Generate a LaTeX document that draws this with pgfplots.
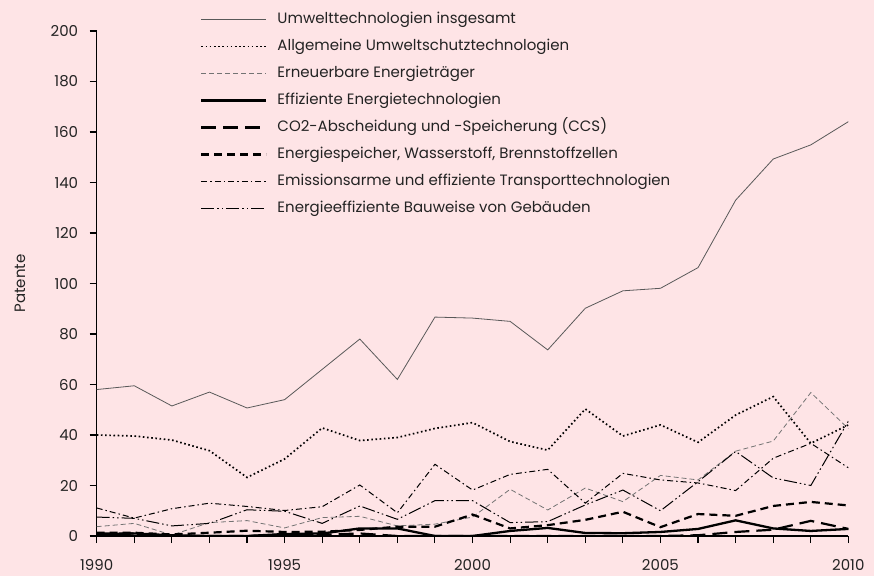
\documentclass[border=0pt]{standalone}
\usepackage{pgfplots}
\pgfplotsset{compat=1.18}
\usepackage{fontspec}
\setmainfont{Poppins}
\definecolor{bg}{RGB}{254,228,230}
\definecolor{txt}{RGB}{35,35,35}
\newcommand\chartfont{\fontsize{15}{18}\selectfont}
\pgfplotsset{
  sU/.style={line width=0.8pt, color=black!65},
  sA/.style={line width=1.7pt, color=black, dash pattern=on 1.6pt off 2.6pt},
  sE/.style={line width=0.8pt, color=black!55, dash pattern=on 5pt off 3pt},
  sF/.style={line width=2.3pt, color=black},
  sC/.style={line width=2.2pt, color=black, dash pattern=on 15pt off 7pt},
  sS/.style={line width=2.2pt, color=black, dash pattern=on 8pt off 5pt},
  sT/.style={line width=1pt, color=black, dash pattern=on 6pt off 3pt on 1.5pt off 3pt},
  sG/.style={line width=1pt, color=black, dash pattern=on 13pt off 3pt on 1.5pt off 3pt on 1.5pt off 3pt},
}
\begin{document}
\begin{tikzpicture}
\path[use as bounding box, fill=bg] (-96.7pt,-40pt) rectangle (777.3pt,536pt);
\begin{axis}[
  at={(0pt,0pt)}, anchor=south west,
  scale only axis, width=751.7pt, height=505pt,
  xmin=1990, xmax=2010, ymin=0, ymax=200,
  axis lines*=left,
  axis line style={line width=1.2pt, black, -},
  xtick={1990,...,2010},
  xticklabels={1990,,,,,1995,,,,,2000,,,,,2005,,,,,2010},
  ytick={0,20,...,200},
  tick align=outside,
  major tick length=7pt,
  tick style={line width=1.1pt, draw=black},
  /pgf/number format/assume math mode=true,
  ticklabel style={font=\chartfont, text=txt},
  xticklabel style={yshift=-13pt},
  yticklabel style={xshift=-8pt},
  ylabel={Patente},
  ylabel style={font=\chartfont, text=txt, at={(axis description cs:-0.102,0.5)}, anchor=center},
  legend cell align=left,
  legend image code/.code={\draw[#1] (0pt,0pt) -- (65pt,0pt);},
  legend style={draw=none, fill=none, at={(axis description cs:0.1374,1.037)}, anchor=north west,
    inner sep=0pt, row sep=13pt, font=\chartfont, text=txt,
    nodes={inner sep=0pt, text height=11pt, text depth=3pt},
    /tikz/every odd column/.append style={column sep=10pt}},
]
\addplot[sU] coordinates {(1990,58) (1991,59.5) (1992,51.5) (1993,57) (1994,50.7) (1995,54) (1996,66) (1997,78) (1998,62) (1999,86.7) (2000,86.3) (2001,85) (2002,73.7) (2003,90.2) (2004,97.1) (2005,98.1) (2006,106.3) (2007,133) (2008,149.3) (2009,154.9) (2010,164.1)};
\addlegendentry{Umwelttechnologien insgesamt}
\addplot[sA] coordinates {(1990,40) (1991,39.6) (1992,38) (1993,33.8) (1994,23.2) (1995,30.5) (1996,42.8) (1997,37.8) (1998,39) (1999,42.6) (2000,44.9) (2001,37.4) (2002,34) (2003,50.3) (2004,39.6) (2005,44) (2006,37.1) (2007,47.9) (2008,55.2) (2009,36.7) (2010,44)};
\addlegendentry{Allgemeine Umweltschutztechnologien}
\addplot[sE] coordinates {(1990,3.7) (1991,5) (1992,0.4) (1993,5.3) (1994,6.1) (1995,3.2) (1996,7.3) (1997,7.8) (1998,4) (1999,4.7) (2000,7.5) (2001,18.5) (2002,10.3) (2003,19) (2004,13.6) (2005,24) (2006,22.2) (2007,33.6) (2008,37.6) (2009,56.8) (2010,42.5)};
\addlegendentry{Erneuerbare Energieträger}
\addplot[sF] coordinates {(1990,0.5) (1991,1) (1992,0.3) (1993,0) (1994,0) (1995,0.8) (1996,1) (1997,3) (1998,3) (1999,0) (2000,0) (2001,2) (2002,3.2) (2003,1.2) (2004,1.1) (2005,1.6) (2006,2.8) (2007,6.2) (2008,3) (2009,2) (2010,2.8)};
\addlegendentry{Effiziente Energietechnologien}
\addplot[sC] coordinates {(1990,1) (1991,1) (1992,0) (1993,0) (1994,0) (1995,0.5) (1996,0.5) (1997,1) (1998,0) (1999,0) (2000,0) (2001,0) (2002,0) (2003,0) (2004,0) (2005,0) (2006,0.3) (2007,1.6) (2008,2.5) (2009,6) (2010,2.8)};
\addlegendentry{CO2-Abscheidung und -Speicherung (CCS)}
\addplot[sS] coordinates {(1990,1.3) (1991,1.3) (1992,0.6) (1993,1.3) (1994,2.1) (1995,1.6) (1996,1.7) (1997,2.4) (1998,3.7) (1999,3.7) (2000,8.5) (2001,3) (2002,4.3) (2003,6.4) (2004,9.6) (2005,3.5) (2006,8.7) (2007,8) (2008,11.9) (2009,13.5) (2010,12.1)};
\addlegendentry{Energiespeicher, Wasserstoff, Brennstoffzellen}
\addplot[sT] coordinates {(1990,11.1) (1991,7.1) (1992,10.8) (1993,13) (1994,11.7) (1995,10.1) (1996,11.6) (1997,20.2) (1998,9.2) (1999,28.4) (2000,18.2) (2001,24.4) (2002,26.4) (2003,13) (2004,24.8) (2005,22.2) (2006,21) (2007,18) (2008,30.8) (2009,36.7) (2010,27)};
\addlegendentry{Emissionsarme und effiziente Transporttechnologien}
\addplot[sG] coordinates {(1990,7.5) (1991,7) (1992,4) (1993,5) (1994,10.4) (1995,9.8) (1996,5) (1997,11.9) (1998,6.6) (1999,14) (2000,14) (2001,5.3) (2002,5.7) (2003,12.3) (2004,18.2) (2005,10) (2006,21.5) (2007,33.5) (2008,23) (2009,20) (2010,45.5)};
\addlegendentry{Energieeffiziente Bauweise von Gebäuden}
\end{axis}
\end{tikzpicture}
\end{document}
